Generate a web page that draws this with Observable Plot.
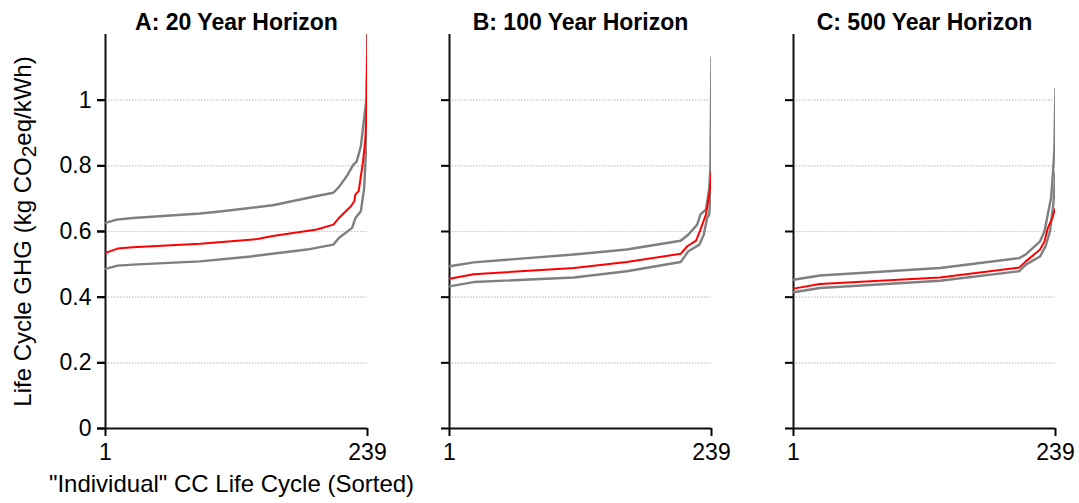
<!DOCTYPE html>
<html><head><meta charset="utf-8">
<script src="https://cdn.jsdelivr.net/npm/d3@7"></script>
<script src="https://cdn.jsdelivr.net/npm/@observablehq/plot@0.6"></script>
<style>
html,body{margin:0;padding:0;background:#fff;}
#chart{width:1079px;height:503px;}
</style></head><body><div id="chart"></div>
<script>
const panels = ["A: 20 Year Horizon", "B: 100 Year Horizon", "C: 500 Year Horizon"];
const xTicks = [1, 239];
const yTicks = [0, 0.2, 0.4, 0.6, 0.8, 1];
const gridTicks = [0.2, 0.4, 0.6, 0.8, 1];
const xLabel = "\"Individual\" CC Life Cycle (Sorted)";
const yLabelParts = ["Life Cycle GHG (kg CO", "2", "eq/kWh)"];
const yLabel = yLabelParts.join("");

// [rank, value]
const upperA = [[1,0.626],[11,0.636],[26,0.641],[87,0.655],[105,0.661],[153,0.680],[193,0.708],[208,0.718],[213,0.735],[221,0.773],[226,0.803],[229,0.812],[231,0.835],[233,0.86],[236,0.947],[238,1.0],[239,1.2]];
const redA   = [[1,0.535],[12,0.548],[26,0.552],[87,0.563],[139,0.577],[153,0.586],[193,0.606],[208,0.621],[213,0.641],[224,0.677],[227,0.692],[228,0.713],[231,0.723],[235,0.815],[237,0.88],[238,0.958],[239,1.2]];
const lowerA = [[1,0.486],[12,0.496],[26,0.499],[87,0.509],[133,0.524],[184,0.545],[208,0.560],[213,0.580],[225,0.611],[228,0.641],[233,0.662],[236,0.733],[238,0.876],[239,1.03]];

const upperB = [[1,0.494],[23,0.506],[114,0.530],[162,0.545],[211,0.572],[218,0.591],[226,0.621],[229,0.652],[234,0.667],[237,0.733],[238,0.794],[239,1.13]];
const redB   = [[1,0.456],[23,0.470],[114,0.489],[162,0.507],[211,0.532],[217,0.555],[225,0.572],[229,0.606],[234,0.652],[237,0.713],[238,0.745],[239,0.78]];
const lowerB = [[1,0.433],[23,0.446],[114,0.460],[162,0.479],[211,0.507],[218,0.540],[228,0.560],[232,0.591],[235,0.641],[237,0.652],[238,0.72],[239,0.85]];

const upperC = [[1,0.453],[25,0.466],[134,0.489],[206,0.519],[212,0.530],[225,0.570],[229,0.601],[232,0.652],[235,0.703],[237,0.794],[238,0.85],[239,1.035]];
const redC   = [[1,0.426],[25,0.440],[134,0.460],[206,0.490],[212,0.509],[225,0.545],[229,0.570],[232,0.611],[236,0.640],[238,0.662],[239,0.67]];
const lowerC = [[1,0.415],[25,0.428],[134,0.450],[206,0.479],[212,0.499],[225,0.524],[230,0.555],[234,0.601],[237,0.682],[239,0.78]];

const grayRows = [], redRows = [];
function add(target, panel, series, pts) {
  for (const [rank, value] of pts) target.push({panel, series, rank, value});
}
add(grayRows, panels[0], "upper", upperA); add(grayRows, panels[0], "lower", lowerA); add(redRows, panels[0], "central", redA);
add(grayRows, panels[1], "upper", upperB); add(grayRows, panels[1], "lower", lowerB); add(redRows, panels[1], "central", redB);
add(grayRows, panels[2], "upper", upperC); add(grayRows, panels[2], "lower", lowerC); add(redRows, panels[2], "central", redC);

const chart = Plot.plot({
  width: 1079, height: 503,
  marginLeft: 105, marginRight: 24, marginTop: 34, marginBottom: 75,
  style: {fontFamily: "'Liberation Sans', Arial, sans-serif", color: "#000", background: "#fff", overflow: "visible"},
  fx: {domain: panels, paddingInner: 0.2384, paddingOuter: 0, label: null},
  x: {domain: [1, 239]},
  y: {domain: [0, 1.2]},
  marks: [
    Plot.gridY(gridTicks, {stroke: "#c4c4c4", strokeOpacity: 1, strokeDasharray: "1.5,1.5", strokeWidth: 1.2, facetAnchor: null}),
    Plot.axisFx({anchor: "top", label: null, fontSize: 23, fontWeight: "bold", tickSize: 0, tickPadding: 5}),
    Plot.axisY(yTicks, {tickFormat: d => String(d), fontSize: 23, tickSize: 8, tickPadding: 6, strokeWidth: 2, label: null}),
    Plot.axisY(yTicks, {tickFormat: () => "", tickSize: 8, strokeWidth: 2, label: null, facetAnchor: null}),
    Plot.axisX(xTicks, {fontSize: 23, tickSize: 8, tickPadding: 7, strokeWidth: 2, label: null, facetAnchor: null}),
    Plot.ruleX([1], {y1: 0, y2: 1.2, strokeWidth: 2, stroke: "#111"}),
    Plot.ruleY([0], {x1: 1, x2: 239, strokeWidth: 2, stroke: "#111"}),
    Plot.line(grayRows, {fx: "panel", x: "rank", y: "value", z: "series", stroke: "#7f7f7f", strokeWidth: 2.4, clip: true}),
    Plot.line(redRows, {fx: "panel", x: "rank", y: "value", z: "series", stroke: "#ff0000", strokeWidth: 2, clip: true}),
    Plot.text([{panel: panels[0], label: xLabel}], {fx: "panel", text: "label", frameAnchor: "bottom", dy: 63, dx: -5, fontSize: 24}),
    Plot.text([{panel: panels[0], label: yLabel}], {fx: "panel", text: "label", frameAnchor: "left", rotate: -90, dx: -82, fontSize: 24})
  ]
});
document.getElementById("chart").appendChild(chart);
// render the "2" of CO2 as a subscript, keeping the label centred
for (const t of chart.querySelectorAll("text")) {
  if (t.textContent === yLabel) {
    const ns = "http://www.w3.org/2000/svg";
    t.textContent = "";
    const a = document.createElementNS(ns, "tspan"); a.textContent = yLabelParts[0];
    const b = document.createElementNS(ns, "tspan"); b.textContent = yLabelParts[1];
    b.setAttribute("dy", "5"); b.setAttribute("font-size", "21");
    const c = document.createElementNS(ns, "tspan"); c.textContent = yLabelParts[2];
    c.setAttribute("dy", "-5");
    t.append(a, b, c);
    t.setAttribute("text-anchor", "start");
    const len = t.getComputedTextLength();
    a.setAttribute("dx", String(-len / 2));
  }
}
</script></body></html>
